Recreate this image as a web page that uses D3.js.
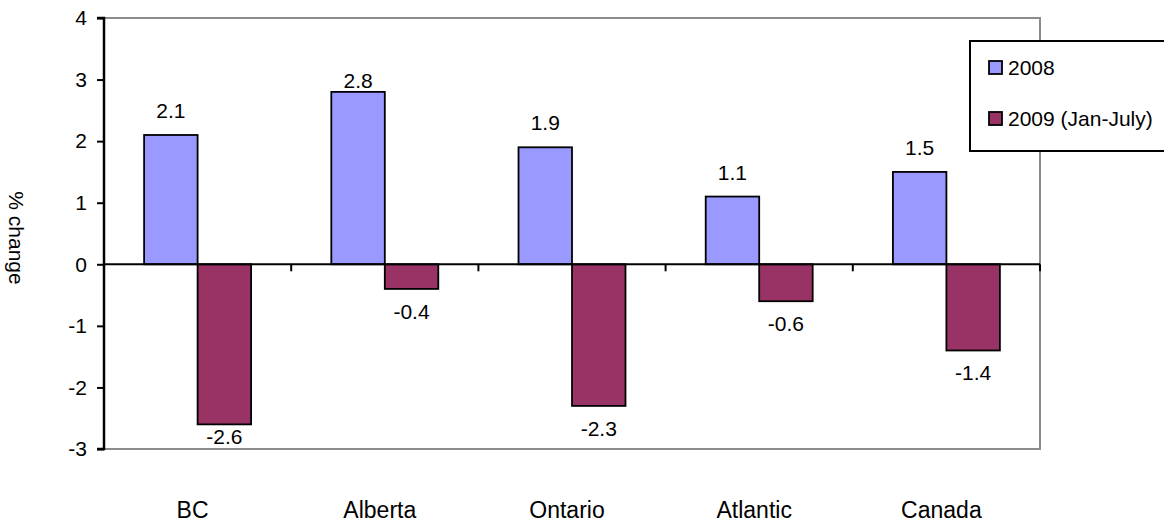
<!DOCTYPE html>
<html>
<head>
<meta charset="utf-8">
<script src="https://cdn.jsdelivr.net/npm/d3@7"></script>
<style>
  html, body { margin: 0; padding: 0; background: #fff; }
  svg { display: block; font-family: "Liberation Sans", Arial, sans-serif; }
</style>
</head>
<body>
<svg id="chart" width="1164" height="525"></svg>
<script>
// Annual % change by region
const categories = ["BC", "Alberta", "Ontario", "Atlantic", "Canada"];
const seriesNames = ["2008", "2009 (Jan-July)"];
const values2008 = [2.1, 2.8, 1.9, 1.1, 1.5];
const values2009 = [-2.6, -0.4, -2.3, -0.6, -1.4];
const yTicks = [4, 3, 2, 1, 0, -1, -2, -3];
const colors = ["#9999FF", "#993366"];

const svg = d3.select("#chart");
const plot = { left: 104, right: 1040, top: 18, bottom: 449 };
const FONT = 21;

const x = d3.scaleBand().domain(categories).range([plot.left, plot.right]).paddingInner(0).paddingOuter(0);
const y = d3.scaleLinear().domain([-3, 4]).range([plot.bottom, plot.top]);

// Bars take 2 of every 3.5 band units (gap width 150%)
const barW = x.bandwidth() / 3.5;

// Plot area frame: grey top / right / bottom
svg.append("path")
  .attr("d", `M${plot.left},${plot.top}H${plot.right}V${plot.bottom}H${plot.left}`)
  .attr("fill", "none").attr("stroke", "#8c8c8c").attr("stroke-width", 2);

const rows = categories.map((c, i) => ({ cat: c, v: [values2008[i], values2009[i]] }));

// Bars
const groups = svg.append("g").selectAll("g").data(rows).join("g");
groups.selectAll("rect")
  .data(d => d.v.map((v, s) => ({ cat: d.cat, v, s })))
  .join("rect")
  .attr("x", d => x(d.cat) + x.bandwidth() / 2 - barW + d.s * barW)
  .attr("y", d => y(Math.max(0, d.v)))
  .attr("width", barW)
  .attr("height", d => Math.abs(y(d.v) - y(0)))
  .attr("fill", d => colors[d.s])
  .attr("stroke", "#000").attr("stroke-width", 1.8);

// Value labels
groups.selectAll("text.val")
  .data(d => d.v.map((v, s) => ({ cat: d.cat, v, s })))
  .join("text")
  .attr("class", "val")
  .attr("x", d => x(d.cat) + x.bandwidth() / 2 - barW / 2 + d.s * barW)
  .attr("y", d => {
    if (d.v >= 0) {
      // the tallest bar keeps its label tucked just above the bar top
      const off = d.v === d3.max(values2008) ? 4 : 17;
      return y(d.v) - off;
    }
    return Math.min(y(d.v) + 30, plot.bottom - 5);
  })
  .attr("text-anchor", "middle")
  .attr("font-size", FONT).attr("fill", "#000")
  .text(d => d.v.toFixed(1));

// Y axis
const yAxis = d3.axisLeft(y).tickValues(yTicks).tickSize(7).tickPadding(10).tickFormat(d => String(d));
const ya = svg.append("g").attr("transform", `translate(${plot.left},0)`).call(yAxis);
ya.select(".domain").attr("stroke", "#000").attr("stroke-width", 2.5).attr("d", `M-7,${plot.top}H0V${plot.bottom}H-7`);
ya.selectAll(".tick line").attr("stroke", "#000").attr("stroke-width", 2);
ya.selectAll(".tick text").attr("font-size", FONT).attr("fill", "#000")
  .attr("font-family", "Liberation Sans, Arial, sans-serif");

// Category axis along zero, ticks between categories
const boundaries = categories.map(c => x(c)).concat([plot.right]);
const za = svg.append("g");
za.append("line")
  .attr("x1", plot.left).attr("x2", plot.right)
  .attr("y1", y(0)).attr("y2", y(0))
  .attr("stroke", "#000").attr("stroke-width", 2);
za.selectAll("line.tk").data(boundaries).join("line")
  .attr("class", "tk")
  .attr("x1", d => d).attr("x2", d => d)
  .attr("y1", y(0)).attr("y2", y(0) + 7)
  .attr("stroke", "#000").attr("stroke-width", 2);

// Category labels below the plot
svg.append("g").selectAll("text").data(categories).join("text")
  .attr("x", d => x(d) + x.bandwidth() / 2 - 5)
  .attr("y", 518)
  .attr("text-anchor", "middle")
  .attr("font-size", 23).attr("fill", "#000")
  .text(d => d);

// Y axis title
svg.append("text")
  .attr("transform", `translate(9,238) rotate(90)`)
  .attr("text-anchor", "middle")
  .attr("font-size", FONT).attr("fill", "#000")
  .text("% change");

// Legend
const lg = svg.append("g");
lg.append("rect")
  .attr("x", 970).attr("y", 41).attr("width", 220).attr("height", 110)
  .attr("fill", "#fff").attr("stroke", "#000").attr("stroke-width", 2);
const items = lg.selectAll("g").data(seriesNames).join("g")
  .attr("transform", (d, i) => `translate(989,${61 + i * 51})`);
items.append("rect")
  .attr("width", 13).attr("height", 13)
  .attr("fill", (d, i) => colors[i]).attr("stroke", "#000").attr("stroke-width", 1.8);
items.append("text")
  .attr("x", 19).attr("y", 14)
  .attr("font-size", FONT).attr("fill", "#000")
  .text(d => d);
</script>
</body>
</html>
